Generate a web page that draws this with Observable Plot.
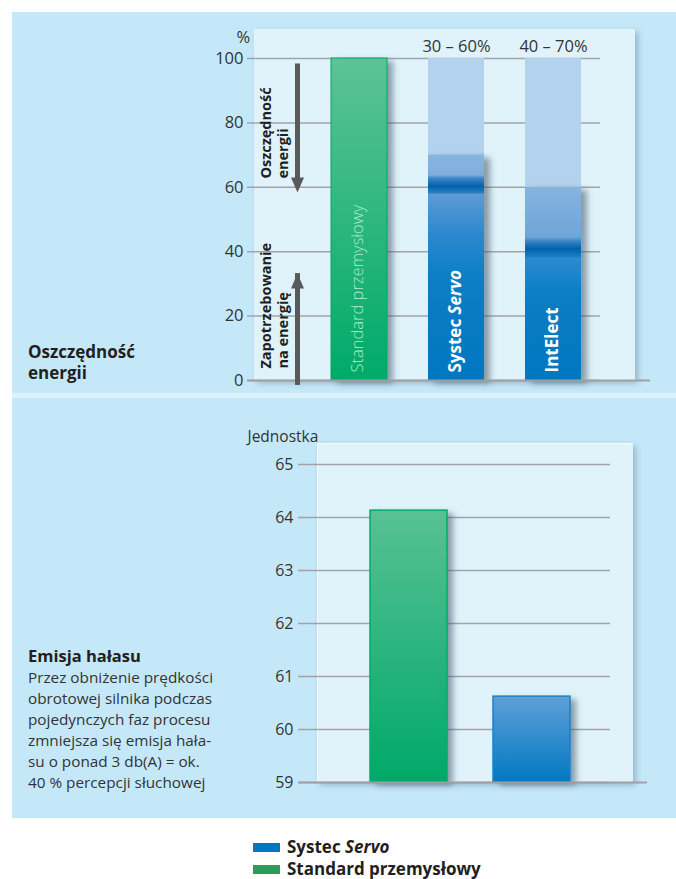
<!DOCTYPE html>
<html><head><meta charset="utf-8">
<script src="https://cdn.jsdelivr.net/npm/d3@7"></script>
<script src="https://cdn.jsdelivr.net/npm/@observablehq/plot@0.6"></script>
<style>
body{margin:0;background:#fff}
#page{position:relative;width:676px;height:879px;overflow:hidden;font-family:"Open Sans",sans-serif;color:#231f20}
.abs{position:absolute}
.area{position:absolute;background:#e0f3fb;box-shadow:3px 3px 6px rgba(60,90,110,0.35)}
.lg{position:absolute;left:253px;font-size:17px;font-weight:700;line-height:18px;display:flex;align-items:center}
.sw{display:inline-block;width:27px;height:9px;margin-right:7px}
</style></head>
<body><div id="page">
<div class="abs" style="left:12px;top:12px;width:664px;height:806px;background:#c5e8f9"></div>
<div class="abs" style="left:12px;top:393px;width:664px;height:5px;background:#dcf2fc"></div>
<div class="area" style="left:254px;top:29px;width:381px;height:351px"></div>
<div class="area" style="left:317px;top:443px;width:316px;height:339px;border-left:1px solid #f4fbfe;border-top:1px solid #f4fbfe;box-sizing:border-box"></div>
<div id="top" class="abs" style="left:0;top:0;width:676px"></div>
<div id="bot" class="abs" style="left:0;top:398px;width:676px"></div>
<div class="abs" style="left:28px;top:341px;font-size:17px;font-weight:700;line-height:21px">Oszczędność<br>energii</div>
<div class="abs" style="left:28px;top:645px;font-size:15.3px;line-height:21px;color:#333"><span style="color:#231f20;font-size:16.5px;font-weight:700">Emisja hałasu</span><br>Przez obniżenie prędkości<br>obrotowej silnika podczas<br>pojedynczych faz procesu<br>zmniejsza się emisja hała-<br>su o ponad 3 db(A) = ok.<br>40 % percepcji słuchowej</div>
<div id="legend"></div>
</div>
<script>
// ---- data ----
const energyCats = ["Standard przemysłowy", "Systec Servo", "IntElect"];
const energyValues = [100, 70, 60];
const energyPotential = [null, 100, 100];
const energyRangeLabels = [null, "30 – 60%", "40 – 70%"];
const energyTicks = [0, 20, 40, 60, 80, 100];
const energyNotes = ["Oszczędność\nenergii", "Zapotrzebowanie\nna energię"];
const energyNoteY = [62.7, 3.7];
const arrowFrom = [98.3, 2.2];
const arrowTo = [58.4, 33.2];

const noiseCats = ["Standard przemysłowy", "Systec Servo"];
const noiseValues = [64.13, 60.62];
const noiseBase = 59;
const noiseTicks = [59, 60, 61, 62, 63, 64, 65];

const legendLabels = ["Systec <i>Servo</i>", "Standard przemysłowy"];
const legendColors = ["#0077c1", "#2e9b5a"];

// ---- tables ----
const energy = energyCats.map((cat, i) => ({cat, value: energyValues[i], potential: energyPotential[i], range: energyRangeLabels[i]}));
const notes = energyNotes.map((text, i) => ({text, y: energyNoteY[i]}));
const arrows = arrowFrom.map((f, i) => ({from: f, to: arrowTo[i]}));
const noise = noiseCats.map((cat, i) => ({cat, value: noiseValues[i]}));

function defsMark(grads, filterId) {
  return () => {
    const defs = d3.create("svg:defs");
    for (const [id, stops] of grads) {
      const g = defs.append("linearGradient").attr("id", id).attr("x1", 0).attr("y1", 0).attr("x2", 0).attr("y2", 1);
      for (const [o, c] of stops) g.append("stop").attr("offset", o).attr("stop-color", c);
    }
    defs.append("filter").attr("id", filterId).attr("x", "-50%").attr("y", "-20%").attr("width", "200%").attr("height", "140%")
      .append("feGaussianBlur").attr("stdDeviation", 3);
    return defs.node();
  };
}

const gridColor = "#a3a3a7";
const textColor = "#333";

const topPlot = Plot.plot({
  width: 676, height: 393,
  marginLeft: 254, marginRight: 26, marginTop: 58, marginBottom: 13,
  style: {background: "none", fontFamily: "Open Sans", fontSize: "16.5px", color: textColor, overflow: "visible"},
  x: {type: "band", domain: energyCats, range: [309.25, 601.75], paddingInner: 0.4256, paddingOuter: 0.2128, axis: null},
  y: {domain: [0, 100], ticks: energyTicks, tickSize: 0, tickPadding: 11, label: null},
  marks: [
    defsMark([
      ["gStd", [[0, "#5cc396"], [1, "#00aa68"]]],
      ["gSys", [[0, "#88b4df"], [0.09, "#80aedc"], [0.105, "#3f86c6"], [0.14, "#0062ab"], [0.17, "#2b7fc2"], [0.175, "#5c9bd6"], [0.36, "#2a88cd"], [0.55, "#0a7ec6"], [1, "#0077c1"]]],
      ["gInt", [[0, "#88b4df"], [0.26, "#6ea5d8"], [0.28, "#3c85c6"], [0.32, "#0062ab"], [0.36, "#1b7cc3"], [0.37, "#2c8ad0"], [0.55, "#0a7ec6"], [1, "#0077c1"]]]
    ], "shT"),
    Plot.ruleY(energyTicks, {stroke: gridColor, strokeWidth: 1.5, insetLeft: -7, insetRight: 50}),
    Plot.rectY(energy.filter(d => d.potential != null), {x: "cat", y: "potential", fill: "#b2d2ee"}),
    Plot.rectY(energy, {x: "cat", y: "value", fill: "#405464", fillOpacity: 0.55, dx: 6, dy: 3, ariaDescription: "shadow"}),
    Plot.rectY(energy.filter(d => d.cat === energyCats[0]), {x: "cat", y: "value", fill: "url(#gStd)", stroke: "#00a866", strokeWidth: 1}),
    Plot.rectY(energy.filter(d => d.cat === energyCats[1]), {x: "cat", y: "value", fill: "url(#gSys)"}),
    Plot.rectY(energy.filter(d => d.cat === energyCats[2]), {x: "cat", y: "value", fill: "url(#gInt)"}),
    Plot.ruleY([0], {stroke: "#a0a0a4", strokeWidth: 2, insetLeft: -7}),
    Plot.text(energy.filter(d => d.cat === energyCats[0]), {x: "cat", text: "cat", frameAnchor: "bottom", lineAnchor: "middle", dy: -8, dx: -2, rotate: -90, textAnchor: "start", fill: "#aeeccc", fontWeight: 300, fontSize: 16.5}),
    Plot.text(energy.filter(d => d.cat !== energyCats[0]), {x: "cat", text: "cat", frameAnchor: "bottom", lineAnchor: "middle", dy: -8, dx: -1, rotate: -90, textAnchor: "start", fill: "white", fontWeight: "bold", fontSize: 17}),
    Plot.text(energy.filter(d => d.range), {x: "cat", y: "potential", text: "range", dy: -12, fontSize: 16.5, fill: textColor}),
    Plot.ruleX(arrows.slice(0, 1), {x: null, y1: "from", y2: "to", dx: -155, stroke: "#58595b", strokeWidth: 5, insetBottom: 12}),
    Plot.ruleX(arrows.slice(1), {x: null, y1: "from", y2: "to", dx: -155, stroke: "#58595b", strokeWidth: 5, insetTop: 12}),
    Plot.vector(arrows.slice(0, 1), {y: "to", frameAnchor: "left", dx: 43, shape: "spike", anchor: "end", length: 15, r: 6.5, rotate: 180, fill: "#58595b", stroke: "none"}),
    Plot.vector(arrows.slice(1), {y: "to", frameAnchor: "left", dx: 43, shape: "spike", anchor: "end", length: 15, r: 6.5, rotate: 0, fill: "#58595b", stroke: "none"}),
    Plot.text(notes, {y: "y", text: "text", frameAnchor: "left", lineAnchor: "middle", dx: 19.5, rotate: -90, textAnchor: "start", fontWeight: "bold", fontSize: 14.5, lineHeight: 1.17, fill: "#231f20"}),
    Plot.text(["%"], {frameAnchor: "top-left", lineAnchor: "middle", dx: -18, dy: -21, fontSize: 16.5, fill: textColor})
  ]
});

const botPlot = Plot.plot({
  width: 676, height: 420,
  marginLeft: 298, marginRight: 29, marginTop: 66, marginBottom: 36,
  style: {background: "none", fontFamily: "Open Sans", fontSize: "16px", color: textColor, overflow: "visible"},
  x: {type: "band", domain: noiseCats, range: [347, 593], paddingInner: 0.374, paddingOuter: 0.187, axis: null},
  y: {domain: [noiseBase, 65], ticks: noiseTicks, tickFormat: d => String(d), tickSize: 0, tickPadding: 5, label: null},
  marks: [
    defsMark([
      ["nStd", [[0, "#58c194"], [1, "#00a968"]]],
      ["nSys", [[0, "#5fa0d8"], [1, "#0078c2"]]]
    ], "shB"),
    Plot.ruleY(noiseTicks, {stroke: gridColor, strokeWidth: 1.5, insetRight: 37}),
    Plot.rectY(noise, {x: "cat", y1: noiseBase, y2: "value", fill: "#405464", fillOpacity: 0.55, dx: 6, dy: 3, ariaDescription: "shadow"}),
    Plot.rectY(noise.filter(d => d.cat === noiseCats[0]), {x: "cat", y1: noiseBase, y2: "value", fill: "url(#nStd)", stroke: "#00ad6a", strokeWidth: 1.5}),
    Plot.rectY(noise.filter(d => d.cat === noiseCats[1]), {x: "cat", y1: noiseBase, y2: "value", fill: "url(#nSys)", stroke: "#1a82c9", strokeWidth: 1.5}),
    Plot.ruleY([noiseBase], {stroke: "#a0a0a4", strokeWidth: 2}),
    Plot.text(["Jednostka"], {frameAnchor: "top-left", lineAnchor: "middle", dx: -51, dy: -27, textAnchor: "start", fontSize: 15.5, fill: textColor})
  ]
});

for (const [svg, fid] of [[topPlot, "shT"], [botPlot, "shB"]]) {
  svg.querySelectorAll('[aria-description="shadow"]').forEach(g => g.setAttribute("filter", `url(#${fid})`));
}
topPlot.querySelectorAll("text").forEach(t => {
  if (t.textContent === "Systec Servo" && t.children.length === 0) {
    t.textContent = "";
    const ns = "http://www.w3.org/2000/svg";
    const a = document.createElementNS(ns, "tspan"); a.textContent = "Systec ";
    const b = document.createElementNS(ns, "tspan"); b.textContent = "Servo"; b.setAttribute("font-style", "italic");
    t.append(a, b);
  }
});

document.getElementById("top").append(topPlot);
document.getElementById("bot").append(botPlot);

const legend = document.getElementById("legend");
legendLabels.forEach((lab, i) => {
  const row = document.createElement("div");
  row.className = "lg";
  row.style.top = (838 + i * 22) + "px";
  row.innerHTML = `<span class="sw" style="background:${legendColors[i]}"></span><span>${lab}</span>`;
  legend.append(row);
});
</script>
</body></html>
